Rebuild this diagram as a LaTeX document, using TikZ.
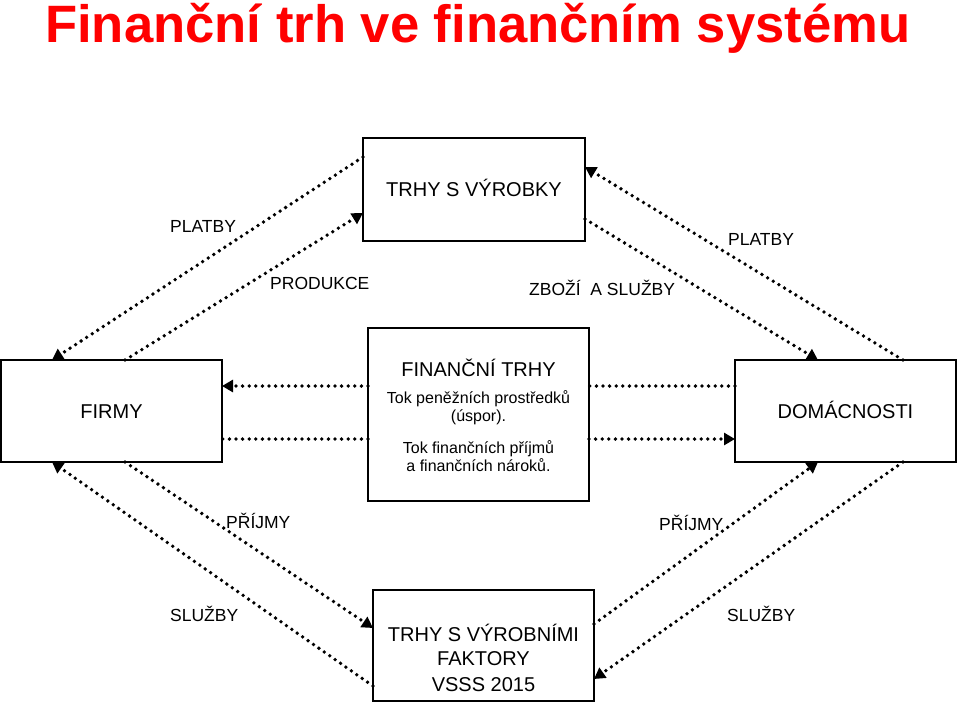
\documentclass[tikz,border=0pt]{standalone}
\usepackage{fontspec}
\setmainfont{Liberation Sans}
\usetikzlibrary{arrows.meta}
\begin{document}
\begin{tikzpicture}[x=1pt,y=-1pt,
  box/.style={draw=black,line width=2.2pt,rectangle,inner sep=0pt,outer sep=0pt},
  flow/.style={line width=3.8pt,line cap=round,dash pattern=on 0pt off 6.6pt},
  flowa/.style={flow,-{Triangle[length=11pt,width=12pt]}},
  lab/.style={inner sep=0pt,anchor=base west,font=\fontsize{17.5}{21}\selectfont},
  big/.style={inner sep=0pt,anchor=base,font=\fontsize{20}{24}\selectfont},
  small/.style={inner sep=0pt,anchor=base,font=\fontsize{16}{19}\selectfont}]
\useasboundingbox (0,0) rectangle (959,705);
\fill[white] (0,0) rectangle (959,705);
\node[inner sep=0pt,anchor=base west,text=red,font=\fontsize{52.6}{60}\selectfont\bfseries] (title) at (45,42) {Finanční trh ve finančním systému};
% boxes
\node[box,minimum width=222pt,minimum height=103pt] (vyr) at (474,189.5) {};
\node[box,minimum width=221pt,minimum height=173pt] (fin) at (478.5,414.5) {};
\node[box,minimum width=221pt,minimum height=102pt] (firmy) at (111.5,411) {};
\node[box,minimum width=221pt,minimum height=102pt] (dom) at (845.5,411) {};
\node[box,minimum width=221pt,minimum height=111pt] (fak) at (483.5,645.5) {};
% box texts
\node[big] (vyrT) at (474,196.7) {TRHY S VÝROBKY};
\node[big] (firmyT) at (111.5,418.3) {FIRMY};
\node[big] (domT) at (845.5,418.3) {DOMÁCNOSTI};
\node[big] (finT) at (478.5,376.7) {FINANČNÍ TRHY};
\node[small] (fin1) at (478.5,403.3) {Tok peněžních prostředků};
\node[small] (fin2) at (478.5,421.7) {(úspor).};
\node[small] (fin3) at (478.5,453.3) {Tok finančních příjmů};
\node[small] (fin4) at (478.5,471.7) {a finančních nároků.};
\node[big] (fak1) at (483.5,641.7) {TRHY S VÝROBNÍMI};
\node[big] (fak2) at (483.5,665) {FAKTORY};
\node[big] (fak3) at (483.5,691.7) {VSSS 2015};
% connectors
\draw[flowa] ([yshift=-19pt]vyr.north west) -- ([xshift=51pt]firmy.north west);
\draw[flowa] ([xshift=124pt]firmy.north west) -- ([yshift=-75pt]vyr.north west);
\draw[flowa] ([xshift=-53pt]dom.north east) -- ([yshift=-29pt]vyr.north east);
\draw[flowa] ([yshift=-81pt]vyr.north east) -- ([xshift=83pt]dom.north west);
\draw[flowa] ([yshift=-58pt]fin.north west) -- ([yshift=-26pt]firmy.north east);
\draw[flow] ([yshift=-111pt]fin.north west) -- ([yshift=-79pt]firmy.north east);
\draw[flow] ([yshift=-26pt]dom.north west) -- ([yshift=-58pt]fin.north east);
\draw[flowa] ([yshift=-111pt]fin.north east) -- ([yshift=-79pt]dom.north west);
\draw[flowa] ([xshift=124pt]firmy.south west) -- ([yshift=-38pt]fak.north west);
\draw[flowa] ([yshift=-96pt]fak.north west) -- ([xshift=51pt]firmy.south west);
\draw[flowa] ([yshift=-34pt]fak.north east) -- ([xshift=83pt]dom.south west);
\draw[flowa] ([xshift=-53pt]dom.south east) -- ([yshift=-89pt]fak.north east);
% labels
\node[lab] (l1) at (170,232.3) {PLATBY};
\node[lab] (l2) at (270,289.3) {PRODUKCE};
\node[lab] (l3) at (529,295) {ZBOŽÍ\ \ A SLUŽBY};
\node[lab] (l4) at (728,245) {PLATBY};
\node[lab] (l5) at (226,528.3) {PŘÍJMY};
\node[lab] (l6) at (659,530) {PŘÍJMY};
\node[lab] (l7) at (170,621.7) {SLUŽBY};
\node[lab] (l8) at (727,621.7) {SLUŽBY};
\end{tikzpicture}
\end{document}
